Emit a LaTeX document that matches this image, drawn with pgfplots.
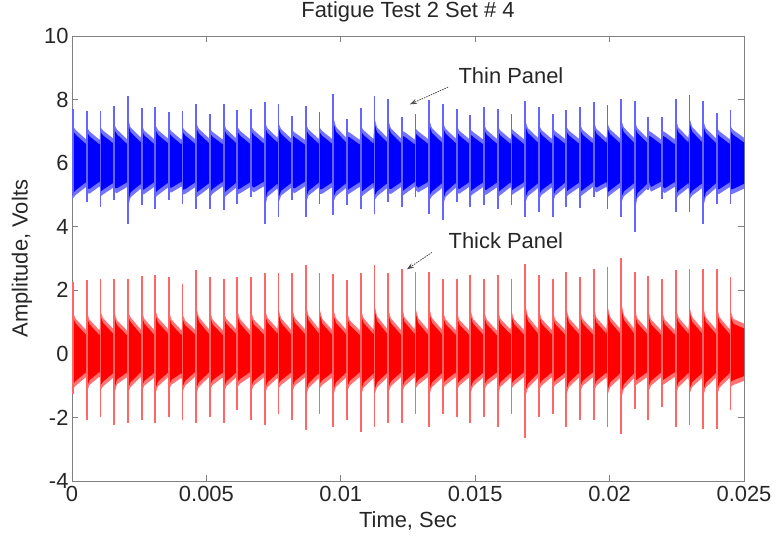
\documentclass[border=0pt]{standalone}
\usepackage{fontspec}
\setmainfont{Liberation Sans}
\usepackage{pgfplots}
\usepackage{pgfplotstable}
\pgfplotsset{compat=1.18}
\usepgfplotslibrary{fillbetween}
\usetikzlibrary{arrows.meta}

% envelope of the dense part of both signals (t in s)
\pgfplotstableread{
t bu bl ru rl
0.00000 7.00 5.00 1.10 -1.00
0.00004 7.01 5.05 1.13 -0.95
0.00014 6.89 5.15 0.95 -0.85
0.00052 6.60 5.40 0.60 -0.58
0.00055 6.98 5.21 1.16 -1.05
0.00065 6.85 5.19 0.93 -0.83
0.00103 6.58 5.42 0.58 -0.56
0.00106 6.98 5.10 1.18 -0.99
0.00116 6.87 5.17 0.97 -0.87
0.00154 6.62 5.38 0.63 -0.60
0.00157 7.07 5.24 1.18 -1.12
0.00167 6.91 5.21 0.91 -0.81
0.00205 6.60 5.40 0.58 -0.58
0.00208 7.26 4.75 1.18 -1.10
0.00218 6.97 5.08 1.00 -0.89
0.00256 6.65 5.35 0.61 -0.57
0.00259 7.05 5.14 1.22 -1.05
0.00269 6.87 5.18 0.95 -0.85
0.00307 6.59 5.41 0.59 -0.59
0.00310 7.06 5.07 1.24 -1.10
0.00320 6.89 5.15 0.98 -0.87
0.00358 6.62 5.39 0.63 -0.58
0.00360 6.97 5.24 1.21 -0.99
0.00370 6.85 5.23 0.93 -0.82
0.00408 6.58 5.42 0.58 -0.60
0.00411 6.98 5.16 1.10 -1.05
0.00421 6.87 5.18 0.90 -0.85
0.00459 6.60 5.40 0.60 -0.56
0.00462 7.11 5.07 1.32 -1.10
0.00472 6.93 5.13 1.01 -0.89
0.00510 6.63 5.37 0.62 -0.58
0.00513 6.94 5.07 1.21 -0.99
0.00523 6.83 5.19 0.93 -0.83
0.00561 6.59 5.42 0.59 -0.59
0.00564 7.11 5.04 1.17 -1.10
0.00574 6.92 5.13 0.95 -0.87
0.00612 6.62 5.39 0.61 -0.58
0.00615 7.00 5.17 1.21 -0.89
0.00625 6.87 5.20 0.95 -0.79
0.00663 6.60 5.40 0.58 -0.57
0.00666 7.01 5.31 1.21 -1.05
0.00676 6.89 5.23 0.93 -0.85
0.00714 6.61 5.42 0.60 -0.58
0.00717 7.16 4.75 1.27 -1.12
0.00727 6.95 5.09 0.99 -0.90
0.00765 6.64 5.36 0.63 -0.60
0.00768 7.11 4.90 1.27 -0.94
0.00778 6.92 5.13 0.97 -0.83
0.00816 6.62 5.38 0.60 -0.58
0.00819 6.89 5.24 1.28 -1.05
0.00829 6.81 5.21 0.98 -0.85
0.00867 6.58 5.42 0.62 -0.59
0.00870 7.07 4.90 1.40 -1.20
0.00880 6.91 5.13 1.05 -0.93
0.00918 6.61 5.39 0.64 -0.61
0.00921 6.97 5.17 1.27 -0.94
0.00931 6.86 5.19 0.95 -0.83
0.00969 6.60 5.40 0.59 -0.58
0.00972 7.30 4.93 1.25 -1.15
0.00982 6.99 5.11 0.97 -0.89
0.01020 6.65 5.37 0.61 -0.59
0.01023 6.84 5.14 1.16 -1.05
0.01033 6.81 5.20 0.91 -0.85
0.01071 6.58 5.41 0.58 -0.57
0.01074 7.03 5.07 1.28 -1.22
0.01084 6.89 5.15 0.98 -0.92
0.01122 6.61 5.39 0.61 -0.60
0.01125 7.26 4.97 1.40 -1.15
0.01135 6.97 5.11 1.03 -0.90
0.01173 6.65 5.37 0.63 -0.59
0.01176 7.22 5.21 1.28 -1.10
0.01186 6.95 5.18 0.97 -0.87
0.01224 6.63 5.40 0.60 -0.58
0.01227 6.87 5.10 1.34 -1.10
0.01237 6.83 5.17 1.00 -0.87
0.01275 6.59 5.41 0.62 -0.58
0.01278 6.94 5.31 1.29 -0.94
0.01288 6.85 5.23 0.97 -0.82
0.01326 6.60 5.42 0.59 -0.57
0.01329 7.20 4.97 1.29 -1.15
0.01339 6.95 5.11 0.98 -0.90
0.01377 6.64 5.37 0.61 -0.60
0.01380 7.12 4.83 1.19 -0.94
0.01390 6.93 5.09 0.93 -0.83
0.01428 6.62 5.38 0.59 -0.58
0.01431 7.01 5.21 1.19 -0.99
0.01441 6.87 5.19 0.92 -0.85
0.01479 6.60 5.41 0.58 -0.58
0.01482 6.91 5.10 1.24 -1.10
0.01492 6.83 5.18 0.95 -0.87
0.01530 6.59 5.40 0.60 -0.59
0.01533 7.06 5.14 1.19 -0.99
0.01543 6.89 5.17 0.93 -0.83
0.01581 6.61 5.39 0.58 -0.58
0.01584 7.01 5.07 1.24 -1.15
0.01594 6.87 5.15 0.95 -0.89
0.01632 6.60 5.40 0.61 -0.59
0.01635 6.94 5.14 1.19 -0.94
0.01645 6.85 5.20 0.93 -0.83
0.01683 6.59 5.41 0.59 -0.57
0.01686 7.18 4.90 1.42 -1.20
0.01696 6.95 5.11 1.03 -0.93
0.01734 6.64 5.37 0.63 -0.60
0.01737 7.06 5.00 1.24 -0.99
0.01747 6.89 5.15 0.95 -0.85
0.01785 6.61 5.39 0.60 -0.58
0.01788 6.94 4.90 1.19 -0.94
0.01798 6.85 5.13 0.93 -0.83
0.01836 6.60 5.40 0.59 -0.58
0.01839 7.00 5.10 1.29 -1.15
0.01849 6.87 5.17 0.97 -0.89
0.01887 6.61 5.39 0.61 -0.59
0.01890 7.06 5.09 1.21 -1.05
0.01900 6.89 5.16 0.95 -0.85
0.01938 6.62 5.40 0.60 -0.58
0.01941 7.16 5.31 1.34 -1.05
0.01951 6.93 5.23 0.99 -0.85
0.01989 6.63 5.41 0.62 -0.58
0.01992 7.09 5.07 1.37 -1.15
0.02002 6.91 5.15 1.01 -0.90
0.02040 6.62 5.39 0.63 -0.60
0.02043 7.22 4.90 1.50 -1.25
0.02053 6.97 5.11 1.07 -0.95
0.02091 6.64 5.37 0.64 -0.61
0.02093 7.18 4.60 1.29 -0.86
0.02103 6.95 5.05 0.97 -0.80
0.02141 6.63 5.36 0.61 -0.57
0.02144 6.87 5.45 1.22 -1.05
0.02154 6.83 5.25 0.93 -0.85
0.02192 6.59 5.42 0.59 -0.58
0.02195 6.87 5.27 1.19 -0.84
0.02205 6.83 5.21 0.93 -0.79
0.02243 6.59 5.41 0.59 -0.57
0.02246 7.22 5.00 1.32 -1.15
0.02256 6.97 5.13 1.00 -0.90
0.02294 6.64 5.38 0.62 -0.59
0.02297 7.28 5.00 1.34 -1.12
0.02307 6.99 5.13 1.01 -0.89
0.02345 6.65 5.37 0.63 -0.60
0.02348 7.18 4.77 1.33 -1.18
0.02358 6.95 5.09 1.00 -0.91
0.02396 6.63 5.37 0.62 -0.60
0.02399 6.95 5.17 1.34 -1.18
0.02409 6.85 5.19 1.00 -0.91
0.02447 6.60 5.40 0.62 -0.60
0.02450 7.00 5.17 1.21 -0.89
0.02460 6.89 5.19 0.95 -0.83
0.02500 6.65 5.35 0.80 -0.70
}\env

% impulse peaks and troughs (thin panel: bp/bt, thick panel: rp/rt)
\pgfplotstableread{
t bp bt rp rt
0.00004 7.69 5.04 2.26 -1.25
0.00055 7.64 4.78 2.32 -2.09
0.00106 7.64 4.62 2.35 -1.98
0.00157 7.79 4.83 2.35 -2.24
0.00208 8.10 4.08 2.35 -2.19
0.00259 7.75 4.67 2.44 -2.09
0.00310 7.77 4.57 2.47 -2.19
0.00360 7.61 4.83 2.42 -1.98
0.00411 7.64 4.71 2.21 -2.09
0.00462 7.85 4.57 2.63 -2.19
0.00513 7.56 4.57 2.42 -1.98
0.00564 7.85 4.52 2.34 -2.19
0.00615 7.66 4.73 2.42 -1.77
0.00666 7.69 4.94 2.42 -2.09
0.00717 7.93 4.08 2.53 -2.24
0.00768 7.85 4.31 2.53 -1.88
0.00819 7.48 4.83 2.55 -2.09
0.00870 7.79 4.31 2.79 -2.40
0.00921 7.61 4.73 2.53 -1.88
0.00972 8.17 4.36 2.50 -2.30
0.01023 7.40 4.67 2.32 -2.09
0.01074 7.72 4.57 2.55 -2.45
0.01125 8.10 4.41 2.79 -2.30
0.01176 8.03 4.78 2.55 -2.19
0.01227 7.45 4.62 2.68 -2.19
0.01278 7.56 4.94 2.58 -1.88
0.01329 8.00 4.41 2.58 -2.30
0.01380 7.87 4.20 2.37 -1.88
0.01431 7.69 4.78 2.37 -1.98
0.01482 7.51 4.62 2.47 -2.19
0.01533 7.77 4.67 2.37 -1.98
0.01584 7.69 4.57 2.47 -2.30
0.01635 7.56 4.67 2.37 -1.88
0.01686 7.96 4.31 2.84 -2.66
0.01737 7.77 4.46 2.47 -1.98
0.01788 7.56 4.31 2.37 -1.88
0.01839 7.66 4.62 2.58 -2.30
0.01890 7.77 4.60 2.42 -2.09
0.01941 7.93 4.94 2.68 -2.09
0.01992 7.82 4.57 2.74 -2.30
0.02043 8.03 4.31 3.00 -2.51
0.02093 7.96 3.84 2.58 -1.72
0.02144 7.45 5.15 2.44 -2.09
0.02195 7.45 4.88 2.37 -1.67
0.02246 8.03 4.46 2.63 -2.30
0.02297 8.14 4.46 2.68 -2.24
0.02348 7.96 4.10 2.66 -2.35
0.02399 7.58 4.73 2.68 -2.35
0.02450 7.66 4.73 2.42 -1.77
}\spk

\begin{document}
\begin{tikzpicture}
\begin{axis}[
  at={(0,0)}, anchor=south west,
  scale only axis, width=672bp, height=445bp,
  xmin=0, xmax=0.025, ymin=-4, ymax=10,
  xtick={0,0.005,0.01,0.015,0.02,0.025},
  xticklabels={0,0.005,0.01,0.015,0.02,0.025},
  scaled x ticks=false,
  ytick={-4,-2,0,2,4,6,8,10},
  /pgf/number format/assume math mode=true,
  tick align=inside, major tick length=6bp,
  axis line style={black!50, line width=0.9bp},
  tick style={black!50, line width=0.9bp},
  tick label style={font=\fontsize{22}{26}\selectfont, text=black!85},
  xticklabel style={yshift=-2bp},
  every axis title shift=0pt,
  title={Fatigue Test 2 Set \# 4},
  title style={at={(axis description cs:0.5,1.054)}, anchor=center, font=\fontsize{22}{26}\selectfont, text=black!85},
  xlabel={Time, Sec},
  xlabel style={at={(axis description cs:0.5,-0.09)}, anchor=center, font=\fontsize{22}{26}\selectfont, text=black!85},
  ylabel={Amplitude, Volts},
  ylabel style={at={(axis description cs:-0.0744,0.5)}, anchor=center, font=\fontsize{22}{26}\selectfont, text=black!85},
]
% impulses
\addplot[draw=none, forget plot, error bars/.cd, y dir=both, y explicit, error mark=none,
  error bar style={draw=blue!60, line width=1.8bp}]
  table[x=t, y expr=6, y error plus expr=\thisrow{bp}-6, y error minus expr=6-\thisrow{bt}] {\spk};
\addplot[draw=none, forget plot, error bars/.cd, y dir=both, y explicit, error mark=none,
  error bar style={draw=red!60, line width=1.8bp}]
  table[x=t, y expr=0, y error plus expr=\thisrow{rp}, y error minus expr=-\thisrow{rt}] {\spk};
% light fringe of the dense bands
\addplot[name path=bU2, draw=none, forget plot] table[x=t, y expr=\thisrow{bu}+0.15] {\env};
\addplot[name path=bL2, draw=none, forget plot] table[x=t, y expr=\thisrow{bl}-0.15] {\env};
\addplot[fill=blue!55, draw=none, forget plot] fill between[of=bU2 and bL2];
\addplot[name path=rU2, draw=none, forget plot] table[x=t, y expr=\thisrow{ru}+0.15] {\env};
\addplot[name path=rL2, draw=none, forget plot] table[x=t, y expr=\thisrow{rl}-0.15] {\env};
\addplot[fill=red!55, draw=none, forget plot] fill between[of=rU2 and rL2];
% dense bands
\addplot[name path=bU, draw=none, forget plot] table[x=t, y=bu] {\env};
\addplot[name path=bL, draw=none, forget plot] table[x=t, y=bl] {\env};
\addplot[fill=blue, draw=none] fill between[of=bU and bL];
\addplot[name path=rU, draw=none, forget plot] table[x=t, y=ru] {\env};
\addplot[name path=rL, draw=none, forget plot] table[x=t, y=rl] {\env};
\addplot[fill=red, draw=none] fill between[of=rU and rL];
% annotations
\node[anchor=west, font=\fontsize{22}{26}\selectfont, text=black!85] at (axis cs:0.01425,8.76) {Thin Panel};
\draw[-{Stealth[length=7bp,width=5bp]}, black!70, dash pattern=on 1.5bp off 1bp, line width=0.8bp]
  (axis cs:0.01399,8.39) -- (axis cs:0.01257,7.85);
\node[anchor=west, font=\fontsize{22}{26}\selectfont, text=black!85] at (axis cs:0.01388,3.57) {Thick Panel};
\draw[-{Stealth[length=7bp,width=5bp]}, black!70, dash pattern=on 1.5bp off 1bp, line width=0.8bp]
  (axis cs:0.01339,3.19) -- (axis cs:0.01246,2.66);
\end{axis}
\pgfresetboundingbox
\path[use as bounding box] (-72bp,-56bp) rectangle (707bp,481bp);
\end{tikzpicture}
\end{document}
